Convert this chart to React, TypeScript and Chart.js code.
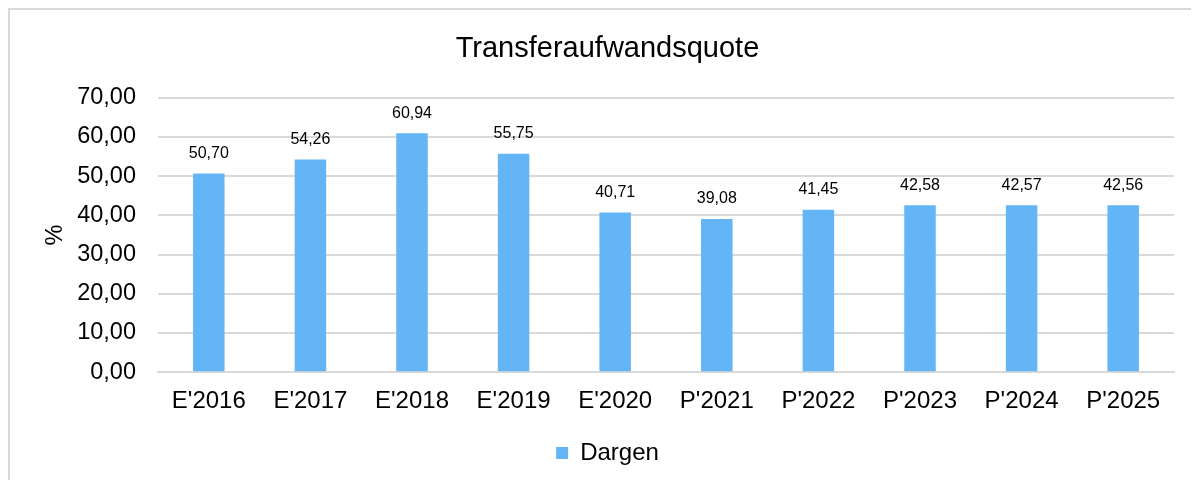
import React, { useEffect, useRef } from "react";
import { Chart, registerables } from "chart.js";

Chart.register(...registerables);

const categories = ["E'2016", "E'2017", "E'2018", "E'2019", "E'2020", "P'2021", "P'2022", "P'2023", "P'2024", "P'2025"];
const dargenValues = [50.7, 54.26, 60.94, 55.75, 40.71, 39.08, 41.45, 42.58, 42.57, 42.56];
const yTicks = [0, 10, 20, 30, 40, 50, 60, 70];
const seriesName = "Dargen";
const chartTitle = "Transferaufwandsquote";

const FONT = "'Liberation Sans', Arial, sans-serif";
const fmt = (v: number) => v.toFixed(2).replace(".", ",");

const valueLabels = {
  id: "valueLabels",
  afterDatasetsDraw(chart: any) {
    const ctx = chart.ctx;
    ctx.save();
    ctx.font = `16px ${FONT}`;
    ctx.fillStyle = "#000";
    ctx.textAlign = "center";
    ctx.textBaseline = "middle";
    chart.data.datasets.forEach((ds: any, i: number) => {
      const meta = chart.getDatasetMeta(i);
      meta.data.forEach((bar: any, j: number) => {
        ctx.fillText(fmt(ds.data[j]), bar.x, bar.y - 20);
      });
    });
    ctx.restore();
  },
};

export default function App() {
  const ref = useRef<HTMLCanvasElement>(null);
  useEffect(() => {
    document.body.style.overflow = "hidden";
    const chart = new Chart(ref.current!, {
      type: "bar",
      data: {
        labels: categories,
        datasets: [
          {
            label: seriesName,
            data: dargenValues,
            backgroundColor: "#64b5f6",
            barPercentage: 0.62,
            categoryPercentage: 0.5,
          },
        ],
      },
      plugins: [valueLabels],
      options: {
        animation: false,
        responsive: true,
        maintainAspectRatio: false,
        layout: { padding: { left: 31, right: 25, top: 14, bottom: 5 } },
        plugins: {
          title: {
            display: true,
            text: chartTitle,
            color: "#000",
            font: { family: FONT, size: 29, weight: "normal" },
            padding: { top: 8, bottom: 31 },
          },
          legend: {
            display: true,
            position: "bottom",
            labels: {
              color: "#000",
              font: { family: FONT, size: 24 },
              boxWidth: 12,
              boxHeight: 12,
              padding: 10,
            },
          },
          tooltip: { enabled: false },
        },
        scales: {
          x: {
            grid: { display: false, drawTicks: false },
            border: { color: "#d9d9d9", width: 2 },
            ticks: { color: "#000", font: { family: FONT, size: 24 }, padding: 15, maxRotation: 0 },
          },
          y: {
            min: 0,
            max: 70,
            afterBuildTicks: (axis: any) => {
              axis.ticks = yTicks.map((v) => ({ value: v }));
            },
            afterFit: (axis: any) => {
              axis.width = 117;
            },
            grid: { color: "#d9d9d9", lineWidth: 2, drawTicks: false },
            border: { display: false },
            ticks: {
              color: "#000",
              font: { family: FONT, size: 23.5 },
              padding: 22,
              callback: (v: any) => fmt(Number(v)),
            },
            title: {
              display: true,
              text: "%",
              color: "#000",
              font: { family: FONT, size: 23.5 },
              padding: { top: 0, bottom: 8 },
            },
          },
        },
      },
    });
    return () => chart.destroy();
  }, []);
  return (
    <div
      style={{
        width: 1189,
        height: 470,
        borderTop: "2px solid #d9d9d9",
        borderLeft: "2px solid #d9d9d9",
        position: "relative",
        background: "#fff",
      }}
    >
      <canvas ref={ref} />
    </div>
  );
}
